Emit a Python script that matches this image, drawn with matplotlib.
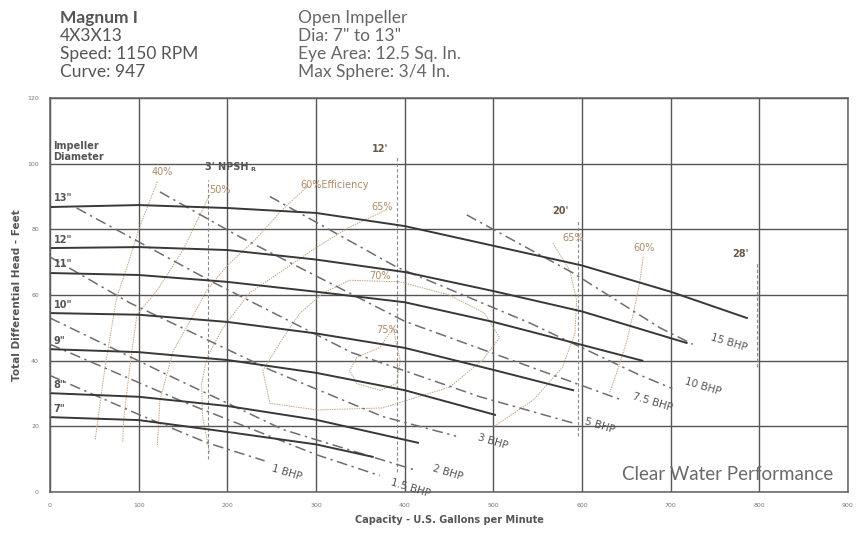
import matplotlib
matplotlib.use("Agg")
import matplotlib.pyplot as plt

# impeller head curves (gpm, ft)
dia_labels = ['13"', '12"', '11"', '10"', '9"', '8"', '7"']
head_q = [
    [0, 100, 200, 300, 400, 500, 600, 700, 786],
    [0, 100, 200, 300, 400, 500, 600, 718],
    [0, 100, 200, 300, 400, 500, 600, 668],
    [0, 100, 200, 300, 400, 500, 590],
    [0, 100, 200, 300, 400, 502],
    [0, 100, 200, 300, 415],
    [0, 100, 200, 300, 364],
]
head_h = [
    [86.8, 87.4, 86.5, 85.0, 81.0, 75.0, 69.0, 61.0, 53.0],
    [74.3, 74.6, 73.7, 70.8, 67.0, 61.2, 55.0, 45.4],
    [66.7, 66.1, 64.0, 61.0, 57.8, 51.8, 44.8, 40.0],
    [54.5, 54.0, 51.8, 48.3, 43.9, 37.2, 31.0],
    [43.5, 42.6, 40.2, 36.3, 31.0, 23.5],
    [30.1, 29.0, 26.2, 22.0, 15.0],
    [22.8, 21.9, 18.3, 14.5, 10.7],
]

# brake horsepower lines
bhp_labels = ["1 BHP", "1.5 BHP", "2 BHP", "3 BHP", "5 BHP", "7.5 BHP", "10 BHP", "15 BHP"]
bhp_q = [
    [0, 101, 177, 242],
    [0, 150, 301, 372],
    [0, 130, 263, 414],
    [0, 90, 250, 375, 458],
    [30, 183, 340, 485, 590],
    [124, 214, 400, 645],
    [248, 391, 541, 662, 702],
    [470, 590, 688, 725],
]
bhp_h = [
    [35.5, 23.5, 15.0, 9.5],
    [45.0, 27.5, 11.3, 5.0],
    [53.0, 36.0, 19.0, 6.5],
    [71.6, 57.6, 37.0, 23.0, 17.0],
    [86.5, 64.0, 42.5, 29.0, 21.0],
    [91.4, 77.7, 52.0, 28.0],
    [90.0, 68.5, 51.5, 36.0, 31.5],
    [84.4, 66.7, 50.0, 45.0],
]
bhp_text_q = [267, 407, 449, 499, 620, 680, 736, 766]
bhp_text_h = [6.0, 1.3, 6.0, 15.3, 20.3, 27.3, 32.0, 45.5]

# efficiency contours
eff_q = [
    [121, 101, 85, 75, 62, 51],
    [180, 150, 121, 98, 90, 83, 82],
    [290, 262, 232, 200, 177, 166, 139, 124, 121],
    [380, 338, 301, 263, 225, 195, 177, 171, 172, 180],
    [567, 586, 594, 592, 578, 545, 500],
    [338, 395, 450, 490, 507, 488, 451, 375, 301, 248, 240, 263, 282, 308, 338],
    [387, 372, 346, 338, 346, 372, 391, 395, 387],
    [669, 665, 657, 650, 639, 631],
]
eff_h = [
    [94.5, 80.7, 67.0, 59.0, 38.0, 16.0],
    [90.5, 73.7, 61.5, 54.0, 38.0, 22.0, 15.0],
    [93.0, 86.0, 77.0, 69.0, 61.5, 56.0, 43.0, 28.0, 14.0],
    [86.0, 80.7, 74.6, 67.6, 60.6, 50.0, 41.0, 33.0, 23.0, 12.0],
    [75.8, 67.6, 58.5, 48.4, 38.0, 28.0, 19.8],
    [64.5, 64.0, 60.0, 54.5, 47.0, 40.2, 32.0, 25.6, 25.0, 27.0, 37.0, 47.0, 54.5, 60.6, 64.5],
    [50.0, 44.0, 41.0, 37.0, 33.0, 31.0, 33.0, 40.0, 50.0],
    [71.6, 63.7, 53.3, 45.4, 36.2, 30.2],
]
eff_labels = ["40%", "50%", "60%Efficiency", "65%", "70%", "75%", "65%", "60%"]
eff_text_q = [115, 180, 282, 362, 360, 368, 578, 658]
eff_text_h = [97.5, 92.0, 93.5, 86.8, 65.8, 49.3, 77.4, 74.3]

# NPSH required
npsh_labels = ["3' NPSH", "12'", "20'", "28'"]
npsh_q = [178, 391, 595, 797]
npsh_top = [95, 102, 83, 70]
npsh_bot = [10, 6, 17, 38]

plt.rcParams['font.family'] = ['DejaVu Sans']
fig = plt.figure(figsize=(8.58, 5.36), dpi=100)
ax = fig.add_axes([0.0583, 0.0821, 0.930, 0.735])

ax.set_xlim(0, 900)
ax.set_ylim(0, 120)
ax.set_xticks(range(0, 901, 100))
ax.set_yticks(range(0, 121, 20))
ax.grid(True, color='#555555', linewidth=1.0)
ax.set_axisbelow(True)
for s in ax.spines.values():
    s.set_color('#606060')
    s.set_linewidth(1.1)
ax.tick_params(length=0, labelsize=4.5, labelcolor='#777777', pad=8)

for q, h in zip(eff_q, eff_h):
    ax.plot(q, h, color='#c9a27e', linewidth=0.7, linestyle=(0, (1.5, 1)))
for lab, q, h in zip(eff_labels, eff_text_q, eff_text_h):
    ax.text(q, h, lab, fontsize=7, color='#b08a66', ha='left', va='center')

for lab, q, t, b in zip(npsh_labels, npsh_q, npsh_top, npsh_bot):
    ax.plot([q, q], [b, t], color='#8a8a8a', linewidth=0.8, linestyle=(0, (3, 2)))
npsh_txt = ax.text(npsh_q[0] - 3, npsh_top[0] + 4, npsh_labels[0], fontsize=7,
                   fontweight='bold', color='#555555', ha='left', va='center')
ax.annotate("R", xy=(1, 0.5), xycoords=npsh_txt, xytext=(1, -2),
            textcoords='offset points', fontsize=4.5, fontweight='bold',
            color='#555555', ha='left', va='center')
for lab, q, t in zip(npsh_labels[1:], npsh_q[1:], npsh_top[1:]):
    ax.text(q - 28, t + 2.5, lab, fontsize=7, fontweight='bold', color='#6a5a4a',
            ha='left', va='center')

for q, h in zip(bhp_q, bhp_h):
    ax.plot(q, h, color='#6e6e6e', linewidth=1.1, linestyle=(0, (7, 3, 1.5, 3)))
for lab, q, h in zip(bhp_labels, bhp_text_q, bhp_text_h):
    ax.text(q, h, lab, fontsize=7.5, color='#555555', rotation=-17,
            ha='center', va='center', rotation_mode='anchor')

for lab, q, h in zip(dia_labels, head_q, head_h):
    ax.plot(q, h, color='#383838', linewidth=1.4)
    ax.text(4, h[0] + 2.6, lab, fontsize=7, fontweight='bold', color='#555555',
            ha='left', va='center')

ax.text(4, 103.7, "Impeller\nDiameter", fontsize=7, fontweight='bold', color='#555555',
        ha='left', va='center', linespacing=1.15)
ax.text(883, 5.3, "Clear Water Performance", fontsize=13.5, color='#6a6a6a',
        ha='right', va='center', family='Lato')

ax.set_xlabel("Capacity - U.S. Gallons per Minute", fontsize=7, fontweight='bold',
              color='#555555', labelpad=5)
ax.set_ylabel("Total Differential Head - Feet", fontsize=7.5, fontweight='bold',
              color='#555555', labelpad=4)

left = ["Magnum I", "4X3X13", "Speed: 1150 RPM", "Curve: 947"]
right = ["Open Impeller", 'Dia: 7" to 13"', "Eye Area: 12.5 Sq. In.", "Max Sphere: 3/4 In."]
for i, t in enumerate(left):
    fig.text(60 / 858, 1 - (18 + 18 * i) / 536, t, fontsize=12.5, color='#555555',
             fontweight='bold' if i == 0 else 'normal', va='center', ha='left',
             family='Lato')
for i, t in enumerate(right):
    fig.text(298 / 858, 1 - (18 + 18 * i) / 536, t, fontsize=12.5, color='#666666',
             va='center', ha='left', family='Lato')

fig.savefig("out.png", dpi=100, facecolor='white')
